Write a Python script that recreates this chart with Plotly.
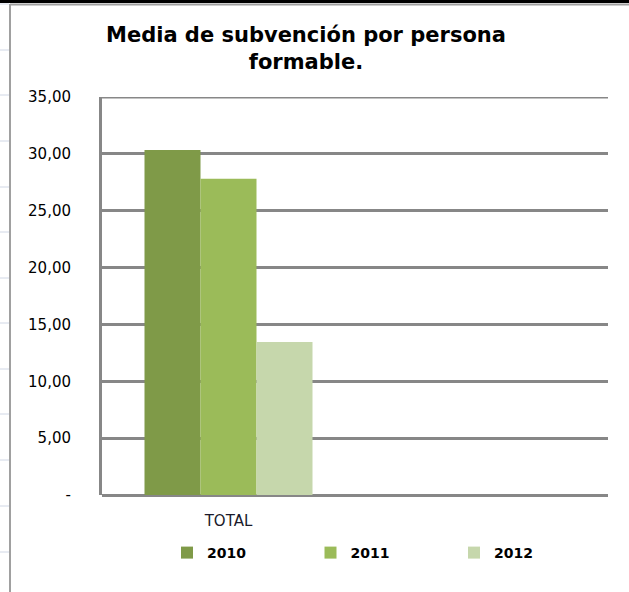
import plotly.graph_objects as go

categories = ["TOTAL", " "]
series_names = ["2010", "2011", "2012"]
values_2010 = [30.33, None]
values_2011 = [27.8, None]
values_2012 = [13.45, None]
series_values = [values_2010, values_2011, values_2012]
colors = ["#7F9A48", "#9BBB59", "#C6D7AC"]
y_tickvals = [0, 5, 10, 15, 20, 25, 30, 35]
y_ticktext = ["-", "5,00", "10,00", "15,00", "20,00", "25,00", "30,00", "35,00"]

W, H = 629, 592
L, R, T, B = 102, 608, 97, 495
FONT = "DejaVu Sans"


def px(x):
    return (x - L) / (R - L)


def py(y):
    return (B - y) / (B - T)


fig = go.Figure()
for name, vals, col in zip(series_names, series_values, colors):
    fig.add_trace(go.Bar(x=categories, y=vals, name=name, marker_color=col,
                         marker_line_width=0))

shapes = []
# spreadsheet artifacts on the left
for yy in [4, 50, 95, 141, 187, 232, 278, 323, 369, 414, 460, 506, 552]:
    shapes.append(dict(type="line", xref="paper", yref="paper",
                       x0=px(0), x1=px(9), y0=py(yy), y1=py(yy),
                       line=dict(color="#D0D7E5", width=1)))
shapes.append(dict(type="line", xref="paper", yref="paper",
                   x0=px(10), x1=px(10), y0=py(4), y1=py(592),
                   line=dict(color="#A0A0A0", width=2)))
shapes.append(dict(type="line", xref="paper", yref="paper",
                   x0=px(10), x1=px(629), y0=py(4.5), y1=py(4.5),
                   line=dict(color="#A0A0A0", width=2)))
shapes.append(dict(type="line", xref="paper", yref="paper",
                   x0=px(0), x1=px(629), y0=py(1.5), y1=py(1.5),
                   line=dict(color="#000000", width=3)))
shapes.append(dict(type="line", xref="paper", yref="paper",
                   x0=px(32), x1=px(32), y0=py(0), y1=py(3),
                   line=dict(color="#000000", width=2)))
shapes.append(dict(type="line", xref="paper", yref="paper",
                   x0=px(278), x1=px(278), y0=py(0), y1=py(3),
                   line=dict(color="#000000", width=2)))
# top gridline at 35
shapes.append(dict(type="line", xref="paper", yref="y",
                   x0=0, x1=1, y0=35, y1=35,
                   line=dict(color="#878787", width=3), layer="below"))

fig.update_layout(
    width=W, height=H,
    margin=dict(l=L, r=W - R, t=T, b=H - B, pad=0),
    paper_bgcolor="white", plot_bgcolor="white",
    font=dict(family=FONT, size=14, color="#000000"),
    title=dict(text="<b>Media de subvención por persona<br>formable.</b>",
               x=px(306), xref="paper", xanchor="center",
               y=1 - 42 / H, yref="container", yanchor="middle",
               font=dict(size=21, family=FONT, color="#000000")),
    barmode="group", bargap=0.336, bargroupgap=0,
    xaxis=dict(type="category", categoryorder="array", categoryarray=categories,
               range=[-0.5, 1.5], showgrid=False, showline=False, zeroline=False,
               ticks="outside", ticklen=12, tickcolor="rgba(0,0,0,0)",
               tickfont=dict(size=15, color="#1a1a2a")),
    yaxis=dict(range=[0, 35], tickvals=y_tickvals, ticktext=y_ticktext,
               showgrid=True, gridcolor="#878787", gridwidth=3,
               showline=True, linecolor="#878787", linewidth=3,
               zeroline=True, zerolinecolor="#878787", zerolinewidth=3,
               ticks="outside", ticklen=25, tickcolor="rgba(0,0,0,0)",
               tickfont=dict(size=15, color="#000000")),
    legend=dict(orientation="h", x=px(167), xanchor="left", y=py(553), yanchor="middle",
                entrywidth=98.5, entrywidthmode="pixels",
                font=dict(size=14, color="#000000", family=FONT, weight="bold"),
                itemsizing="constant"),
    shapes=shapes,
    showlegend=True,
)

fig.write_html("out.html", config={"displayModeBar": False},
               post_script="document.body.style.margin='0';")
